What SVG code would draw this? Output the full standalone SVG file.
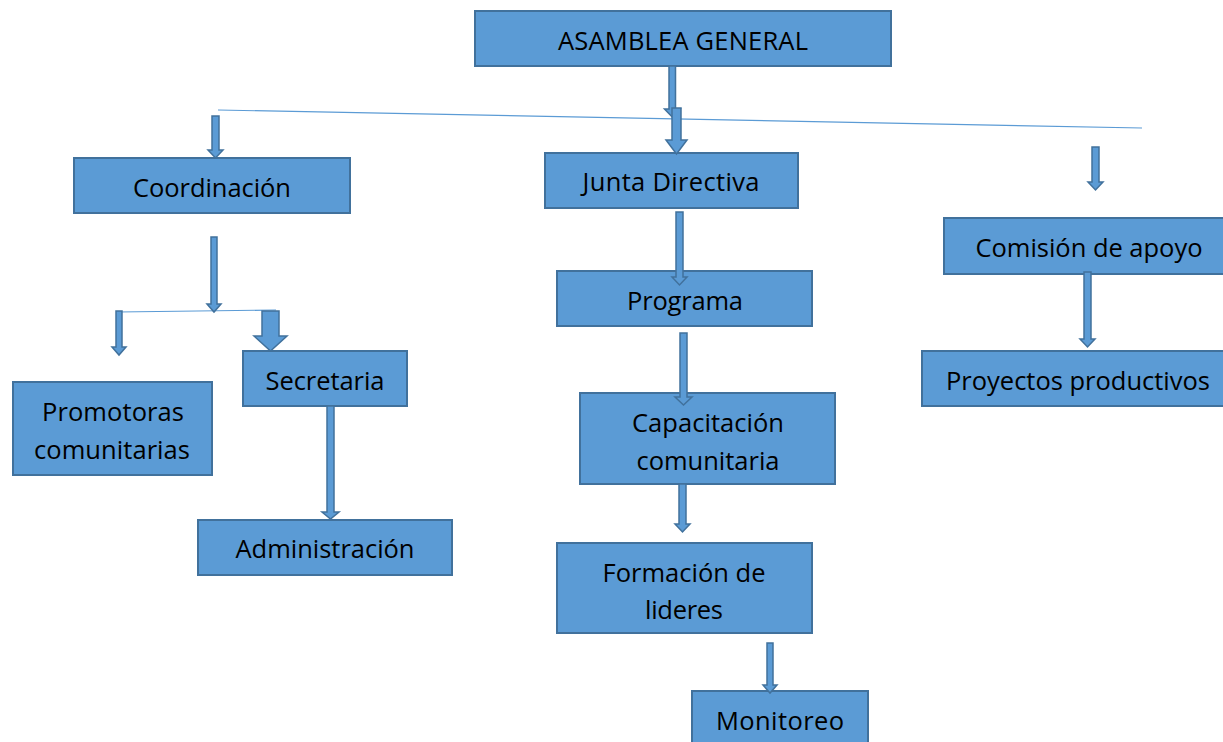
<svg xmlns="http://www.w3.org/2000/svg" width="1223" height="742" viewBox="0 0 1223 742">
<style>
.box{fill:#5B9BD5;stroke:#41719C;stroke-width:2}
.arr{fill:#5B9BD5;stroke:#41719C;stroke-width:1.5;stroke-linejoin:miter}
.ln{stroke:#5B9BD5;stroke-width:1.2;fill:none}
text{font-family:"Open Sans","Noto Sans","Liberation Sans",sans-serif;font-size:25.5px;fill:#000;text-anchor:middle}
</style>
<rect width="1223" height="742" fill="#fff"/>
<g id="asamblea"><rect class="box" x="475" y="11" width="416" height="55"/><text x="683" y="50" textLength="250">ASAMBLEA GENERAL</text></g>
<g id="coordinacion"><rect class="box" x="74" y="158" width="276" height="55"/><text x="212" y="197" textLength="158">Coordinación</text></g>
<g id="junta"><rect class="box" x="545" y="153" width="253" height="55"/><text x="671" y="191" textLength="177">Junta Directiva</text></g>
<g id="comision"><rect class="box" x="944" y="218" width="281" height="56"/><text x="1089" y="257" textLength="227">Comisión de apoyo</text></g>
<g id="proyectos"><rect class="box" x="922" y="351" width="303" height="55"/><text x="1078" y="390" textLength="264">Proyectos productivos</text></g>
<g id="programa"><rect class="box" x="557" y="271" width="255" height="55"/><text x="685" y="310" textLength="116">Programa</text></g>
<g id="capacitacion"><rect class="box" x="580" y="393" width="255" height="91"/><text x="708" y="432" textLength="152">Capacitación</text><text x="708" y="470" textLength="143">comunitaria</text></g>
<g id="formacion"><rect class="box" x="557" y="543" width="255" height="90"/><text x="684" y="582" textLength="163">Formación de</text><text x="684" y="619" textLength="78">lideres</text></g>
<g id="monitoreo"><rect class="box" x="692" y="691" width="176" height="60"/><text x="780" y="730" textLength="128">Monitoreo</text></g>
<g id="promotoras"><rect class="box" x="13" y="382" width="199" height="93"/><text x="113" y="421" textLength="142">Promotoras</text><text x="112" y="459" textLength="156">comunitarias</text></g>
<g id="secretaria"><rect class="box" x="243" y="351" width="164" height="55"/><text x="325" y="390" textLength="119">Secretaria</text></g>
<g id="administracion"><rect class="box" x="198" y="520" width="254" height="55"/><text x="325" y="558" textLength="179">Administración</text></g>
<g id="connectors">
<line class="ln" x1="218" y1="110" x2="1142" y2="128"/>
<line class="ln" x1="118" y1="312" x2="276" y2="310"/>
<path class="arr" d="M669,66 H675.5 V109 H680 L672.2,117 L664.5,109 H669 Z"/>
<path class="arr" d="M672,108 H681 V140 H687 L676.5,154 L666,140 H672 Z"/>
<path class="arr" d="M212,116 H219 V150 H223 L215.5,158 L208,150 H212 Z"/>
<path class="arr" d="M1092,147 H1099 V182 H1103 L1095.5,190 L1088,182 H1092 Z"/>
<path class="arr" d="M211,237 H217 V304 H221 L214,312 L207,304 H211 Z"/>
<path class="arr" d="M116,311 H122 V347 H126 L119,355 L112,347 H116 Z"/>
<path class="arr" d="M262,311 H279 V336 H287 L270.5,351 L254,336 H262 Z"/>
<path class="arr" d="M327,406 H334 V512 H339 L330.5,519 L322,512 H327 Z"/>
<path class="arr" d="M676,212 H683 V277 H687 L679.5,285 L672,277 H676 Z"/>
<path class="arr" d="M680,333 H687 V397 H692 L683.5,405 L675,397 H680 Z"/>
<path class="arr" d="M679,484 H686 V524 H690 L682.5,532 L675,524 H679 Z"/>
<path class="arr" d="M767,643 H773 V685 H777 L770,693 L763,685 H767 Z"/>
<path class="arr" d="M1084,272 H1091 V339 H1095 L1087.5,347 L1080,339 H1084 Z"/>
</g>
</svg>
